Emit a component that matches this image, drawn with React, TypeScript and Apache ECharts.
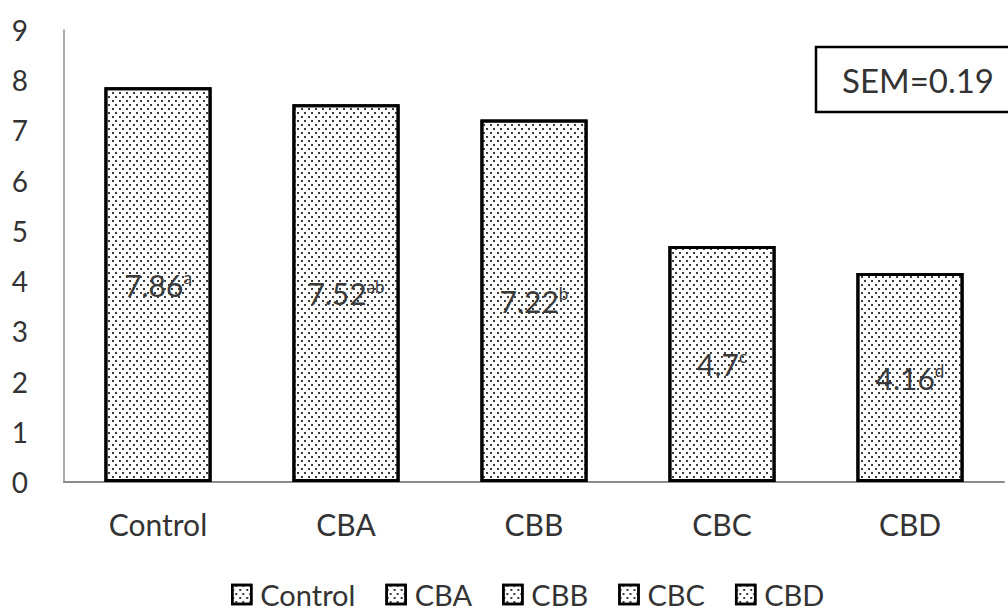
import React, { useEffect, useRef } from "react";
import * as echarts from "echarts";

const categories = ["Control", "CBA", "CBB", "CBC", "CBD"];
const values = [7.86, 7.52, 7.22, 4.7, 4.16];
const letters = ["a", "ab", "b", "c", "d"];
const yTicks = { min: 0, max: 9, interval: 1 };
const semText = "SEM=0.19";

const FONT = "Lato, 'Open Sans', sans-serif";

export default function App() {
  const ref = useRef<HTMLDivElement>(null);
  useEffect(() => {
    if (!ref.current) return;
    const chart = echarts.init(ref.current, null, { renderer: "svg" });
    const decal = {
      symbol: "rect",
      symbolSize: 1,
      color: "#3a3a3a",
      backgroundColor: "#ffffff",
      dashArrayX: [[1.5, 4.5], [0, 3, 1.5, 1.5]],
      dashArrayY: [1.5, 1.5],
      rotation: 0,
    };
    const series = categories.map((name, i) => ({
      name,
      type: "bar",
      stack: "all",
      barWidth: "57%",
      data: categories.map((_, j) => (j === i ? values[i] : null)),
      itemStyle: {
        color: "#ffffff",
        borderColor: "#000000",
        borderWidth: 3,
        decal,
      },
      label: {
        show: true,
        position: "inside",
        formatter: () => `{v|${values[i]}}{s|${letters[i]}}`,
        rich: {
          v: { fontSize: 30, color: "#3a3a3a", fontFamily: FONT },
          s: { fontSize: 17, color: "#3a3a3a", fontFamily: FONT, verticalAlign: "top", padding: [0, 0, 14, 0] },
        },
      },
    }));
    chart.setOption({
      animation: false,
      backgroundColor: "#ffffff",
      grid: { left: 64, right: 4, top: 30, bottom: 131, containLabel: false },
      xAxis: {
        type: "category",
        data: categories,
        axisLine: { lineStyle: { color: "#8c8c8c", width: 2 } },
        axisTick: { show: false },
        axisLabel: { fontSize: 30, color: "#333", fontFamily: FONT, margin: 27 },
      },
      yAxis: {
        type: "value",
        min: yTicks.min,
        max: yTicks.max,
        interval: yTicks.interval,
        splitLine: { show: false },
        axisLine: { show: true, lineStyle: { color: "#8c8c8c", width: 1.5 } },
        axisTick: { show: false },
        axisLabel: { fontSize: 28, color: "#333", fontFamily: FONT, margin: 36 },
      },
      legend: {
        top: 580,
        left: 231,
        padding: 0,
        itemWidth: 19,
        itemHeight: 19,
        itemGap: 30,
        icon: "rect",
        itemStyle: { borderColor: "#000", borderWidth: 2.5 },
        textStyle: { fontSize: 29, color: "#333", fontFamily: FONT, padding: [0, 0, 0, 4] },
        data: categories,
      },
      graphic: [
        {
          type: "rect",
          shape: { x: 816, y: 47, width: 200, height: 65 },
          style: { fill: "#fff", stroke: "#000", lineWidth: 2.5 },
          z: 10,
        },
        {
          type: "text",
          x: 918,
          y: 80,
          style: {
            text: semText,
            fontSize: 33,
            fill: "#333",
            fontFamily: FONT,
            align: "center",
            verticalAlign: "middle",
          },
          z: 11,
        },
      ],
      series,
    });
    return () => chart.dispose();
  }, []);
  return (
    <div
      ref={ref}
      style={{ position: "absolute", left: 0, top: 0, width: 1008, height: 613 }}
    />
  );
}
